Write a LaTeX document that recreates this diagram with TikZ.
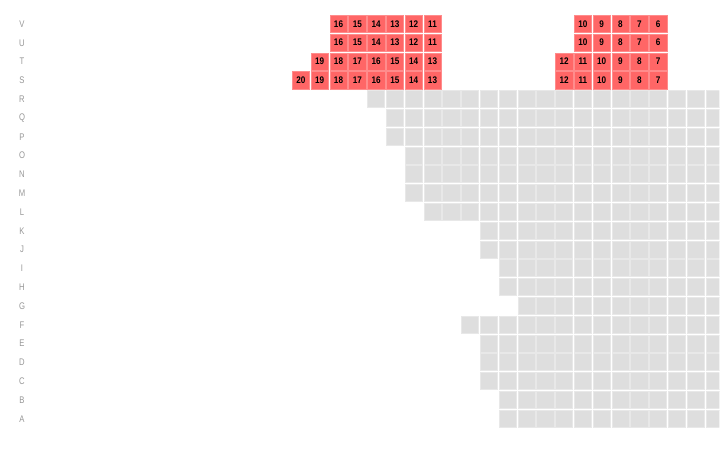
\documentclass[tikz,border=0pt]{standalone}
\usepackage{fontspec}
\usepackage{graphicx}
\setmainfont{Liberation Sans}
\definecolor{seatred}{HTML}{FF6666}
\definecolor{seatredline}{HTML}{FF8C8C}
\definecolor{seatgray}{HTML}{DEDEDE}
\definecolor{seatgrayline}{HTML}{E8E8E8}
\definecolor{rowlab}{HTML}{969696}
\tikzset{
  graycell/.style={fill=seatgray,draw=seatgrayline,line width=0.6pt},
  redcell/.style={fill=seatred,draw=seatredline,line width=0.6pt,minimum width=17.4pt,minimum height=17.2pt,inner sep=0pt,text=black,font=\fontsize{9.6}{9.6}\selectfont\bfseries},
  rowlabel/.style={text=rowlab,inner sep=0pt,font=\fontsize{9.6}{9.6}\selectfont}
}
\begin{document}
\begin{tikzpicture}[x=1pt,y=-1pt]
\useasboundingbox (0,0) rectangle (726,453);
% row labels
\foreach \l [count=\i from 0] in {V,U,T,S,R,Q,P,O,N,M,L,K,J,I,H,G,F,E,D,C,B,A}
  \node[rowlabel] (lab\l) at (22,{15+18.8*\i+9}) {\scalebox{0.8}[1]{\l}};
% gray seats
\begin{scope}
\clip (0,0) rectangle (719.3,453);
\foreach \i/\s in {4/4,5/5,6/5,7/6,8/6,9/6,10/7,11/10,12/10,13/11,14/11,15/12,16/9,17/10,18/10,19/10,20/11,21/11}
  \foreach \k in {\s,...,22}
    \draw[graycell] ({292+18.8*\k+0.3},{15+18.8*\i+0.3}) rectangle ++(17.2,17);
\end{scope}
% red seats
\foreach \i/\s/\e/\n in {0/2/7/16,0/15/19/10,1/2/7/16,1/15/19/10,2/1/7/19,2/14/19/12,3/0/7/20,3/14/19/12}
  \foreach \k in {\s,...,\e}{
    \pgfmathtruncatemacro\num{\n-(\k-\s)}
    \node[redcell] (seat-\i-\k) at ({292+18.8*\k+8.9},{15+18.8*\i+8.8}) {\scalebox{0.85}[1]{\num}};
  }
\end{tikzpicture}
\end{document}
